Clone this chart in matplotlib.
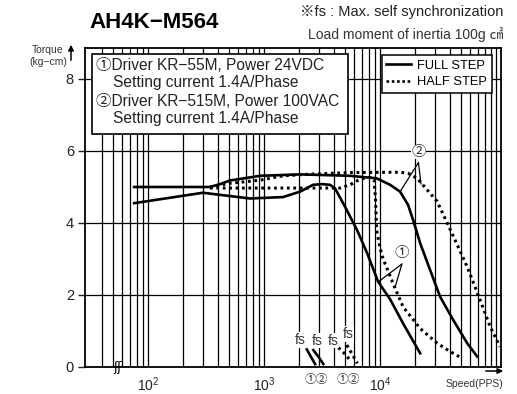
import matplotlib
matplotlib.use("Agg")
from matplotlib import pyplot as plt
from matplotlib.patches import Rectangle, FancyArrowPatch
from matplotlib.lines import Line2D
from matplotlib.ticker import FixedLocator, NullFormatter

plt.rcParams['font.family'] = ['Liberation Sans', 'Noto Sans CJK KR', 'DejaVu Sans']
plt.rcParams['mathtext.fontset'] = 'custom'
plt.rcParams['mathtext.rm'] = 'Liberation Sans'

# speed (PPS) / torque (kg-cm)
full1_speed = [76, 298, 757, 1459, 2044, 2645, 3162, 3707, 4093, 4990, 6339, 7735,
               9611, 12200, 15780, 22130]
full1_torque = [4.55, 4.84, 4.68, 4.72, 4.87, 5.06, 5.08, 5.06, 4.96, 4.45, 3.8, 3.16,
                2.37, 1.88, 1.21, 0.38]

full2_speed = [76, 342, 418, 509, 924, 2044, 5513, 9330, 12200, 14860, 17430, 19250,
               22130, 26990, 32880, 42580, 56260, 68600]
full2_torque = [5.0, 5.0, 5.08, 5.18, 5.31, 5.35, 5.31, 5.24, 5.06, 4.87, 4.5, 4.08,
                3.44, 2.69, 1.95, 1.31, 0.66, 0.29]

half1_speed = [342, 757, 1459, 3707, 4522, 5513, 6724, 8203, 8875, 9146, 9330, 10000,
               10620, 12940, 15780, 22130, 30990, 40110, 50920]
half1_torque = [4.97, 4.97, 4.97, 4.97, 4.97, 5.06, 5.22, 5.27, 5.2, 4.6, 3.8, 3.3,
                3.0, 2.32, 1.67, 1.07, 0.66, 0.43, 0.24]

half2_speed = [342, 509, 924, 1459, 2645, 5513, 14860, 17430, 20840, 25430, 30990,
               37820, 46100, 56260, 69960, 88740, 108100]
half2_torque = [5.0, 5.1, 5.19, 5.31, 5.36, 5.4, 5.41, 5.38, 5.24, 4.92, 4.6,
                4.0, 3.4, 2.78, 2.0, 1.12, 0.56]

# short fs (max. self start) curves
fs_full1_speed = [2335, 2540, 2754]
fs_full1_torque = [0.49, 0.28, 0.08]
fs_full2_speed = [2660, 2950, 3245]
fs_full2_torque = [0.47, 0.28, 0.08]
fs_half1_speed = [4370, 4990, 5510]
fs_half1_torque = [0.54, 0.36, 0.19]
fs_half2_speed = [5165, 5740, 6370]
fs_half2_torque = [0.61, 0.36, 0.1]

y_ticks = [0, 2, 4, 6, 8]
x_major = [100, 1000, 10000]
x_major_labels = ['$10^2$', '$10^3$', '$10^4$']
x_minor = ([m * 10 for m in range(4, 10)] + [m * 100 for m in range(2, 10)] +
           [m * 1000 for m in range(2, 10)] + [m * 10000 for m in range(2, 11)])

W, H = 517, 394


def fx(x):
    return x / W


def fy(y):
    return 1 - y / H


fig = plt.figure(figsize=(W / 100, H / 100), dpi=100)
ax = fig.add_axes([fx(85), fy(367), (501 - 85) / W, (367 - 48) / H])
ax.set_xscale('log')
ax.set_xlim(28.7, 110000)
ax.set_ylim(0, 8.86)

ax.xaxis.set_major_locator(FixedLocator(x_major))
ax.xaxis.set_minor_locator(FixedLocator(x_minor))
ax.xaxis.set_minor_formatter(NullFormatter())
ax.set_xticklabels(x_major_labels)
ax.set_yticks(y_ticks)
ax.tick_params(axis='x', which='both', length=0, pad=6, labelsize=10, colors='#222222')
ax.tick_params(axis='y', length=5, width=1, pad=3, labelsize=10.5, colors='#222222')
ax.set_axisbelow(True)
ax.grid(True, which='both', axis='x', color='black', lw=0.9)
ax.grid(True, which='major', axis='y', color='black', lw=0.9)
for s in ax.spines.values():
    s.set_linewidth(1.3)

dot = (0, (0.9, 1.2))
ax.plot(full1_speed, full1_torque, color='black', lw=1.9, zorder=4)
ax.plot(full2_speed, full2_torque, color='black', lw=1.9, zorder=4)
ax.plot(half1_speed, half1_torque, color='black', lw=2.2, ls=dot, zorder=4)
ax.plot(half2_speed, half2_torque, color='black', lw=2.2, ls=dot, zorder=4)
ax.plot(fs_full1_speed, fs_full1_torque, color='black', lw=1.9, zorder=4)
ax.plot(fs_full2_speed, fs_full2_torque, color='black', lw=1.9, zorder=4)
ax.plot(fs_half1_speed, fs_half1_torque, color='black', lw=2.2, ls=dot, zorder=4)
ax.plot(fs_half2_speed, fs_half2_torque, color='black', lw=2.2, ls=dot, zorder=4)

# circled labels with leader lines
for label, pos, targets in [('①', (15400, 3.16), [(9700, 2.37), (13500, 2.23)]),
                            ('②', (21400, 5.98), [(14860, 4.87), (22500, 5.08)])]:
    ax.text(pos[0], pos[1], label, ha='center', va='center', fontsize=10.5,
            family=['Noto Sans CJK KR'], color='#333333', zorder=6,
            bbox=dict(facecolor='white', edgecolor='none', pad=0))
    for t in targets:
        ax.annotate('', xy=t, xytext=(pos[0], pos[1] - 0.3),
                    arrowprops=dict(arrowstyle='-', color='black', lw=0.9,
                                    shrinkA=0, shrinkB=0), zorder=6)

# fs labels
for sx, sy in [(2070, 0.75), (2865, 0.73), (3935, 0.73), (5300, 0.92)]:
    ax.text(sx, sy, 'fs', ha='center', va='center', fontsize=10, color='#333333',
            zorder=5, bbox=dict(facecolor='white', edgecolor='none', pad=0.5))

# legend
handles = [Line2D([], [], color='black', lw=1.9),
           Line2D([], [], color='black', lw=1.9, ls=(0, (1, 1)))]
leg = ax.legend(handles, ['FULL STEP', 'HALF STEP'], loc='upper right',
                bbox_to_anchor=(0.978, 0.978), borderaxespad=0, fontsize=9.3,
                handlelength=1.9, handletextpad=0.5, labelspacing=0.35,
                borderpad=0.35, fancybox=False, framealpha=1, edgecolor='black')
leg.get_frame().set_linewidth(1.1)
leg.set_zorder(7)

# driver conditions box
box = Rectangle((fx(92), fy(134)), (348 - 92) / W, (134 - 54) / H, transform=fig.transFigure,
                facecolor='white', edgecolor='black', lw=1.2, zorder=5, clip_on=False)
ax.add_patch(box)
box_font = dict(fontsize=11.2, va='center', color='#222222', zorder=8)
fig.text(fx(96), fy(65), '①Driver KR−55M, Power 24VDC', **box_font)
fig.text(fx(113), fy(83), 'Setting current 1.4A/Phase', **box_font)
fig.text(fx(96), fy(101), '②Driver KR−515M, Power 100VAC', **box_font)
fig.text(fx(113), fy(119), 'Setting current 1.4A/Phase', **box_font)

# headings
fig.text(fx(503), fy(12), '※fs : Max. self synchronization', fontsize=10.5, ha='right',
         va='center', color='#222222')
fig.text(fx(89), fy(22), 'AH4K−M564', fontsize=16, fontweight='bold', va='center')
fig.text(fx(503), fy(34), 'Load moment of inertia 100g ㎠', fontsize=10, ha='right',
         va='center', color='#333333')
fig.text(fx(48), fy(50), 'Torque', fontsize=7.5, ha='center', va='center', color='#333333')
fig.text(fx(48), fy(62), '(kg−cm)', fontsize=7.5, ha='center', va='center', color='#333333')
fig.text(fx(503), fy(384), 'Speed(PPS)', fontsize=7.5, ha='right', va='center', color='#333333')
fig.text(fx(316), fy(379), '①②', fontsize=8.5, ha='center', va='center',
         family=['Noto Sans CJK KR'], color='#333333')
fig.text(fx(348), fy(379), '①②', fontsize=8.5, ha='center', va='center',
         family=['Noto Sans CJK KR'], color='#333333')

# axis arrows and break mark
fig.add_artist(FancyArrowPatch((fx(71), fy(63)), (fx(71), fy(42)),
               transform=fig.transFigure, arrowstyle='-|>', mutation_scale=8,
               color='black', lw=1.1))
fig.add_artist(FancyArrowPatch((fx(483), fy(371)), (fx(506), fy(371)),
               transform=fig.transFigure, arrowstyle='-|>', mutation_scale=8,
               color='black', lw=1.1))
ax.text(0.079, 0.0, 'ʃʃ', transform=ax.transAxes, ha='center', va='center',
        fontsize=9, family=['DejaVu Sans'], zorder=8, clip_on=False)

fig.savefig('out.png', dpi=100)
